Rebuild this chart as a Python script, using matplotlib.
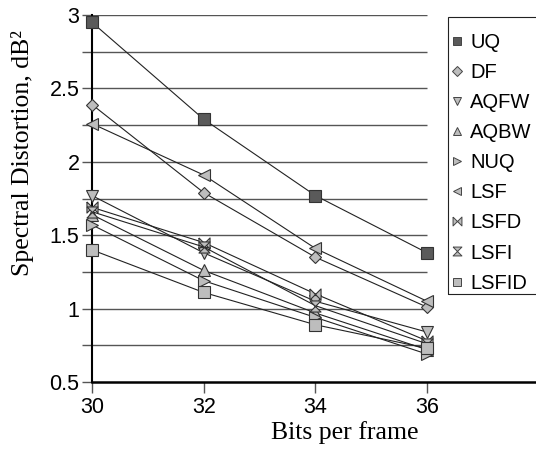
import numpy as np
import matplotlib
matplotlib.use("Agg")
import matplotlib.pyplot as plt
from matplotlib.path import Path
from matplotlib.lines import Line2D
from matplotlib.patches import Rectangle

bits = [30, 32, 34, 36]
methods = ["UQ", "DF", "AQFW", "AQBW", "NUQ", "LSF", "LSFD", "LSFI", "LSFID"]
uq = [2.95, 2.29, 1.77, 1.38]
df = [2.39, 1.79, 1.35, 1.01]
aqfw = [1.77, 1.38, 1.05, 0.84]
aqbw = [1.64, 1.26, 0.97, 0.72]
nuq = [1.57, 1.19, 0.94, 0.69]
lsf = [2.26, 1.91, 1.41, 1.05]
lsfd = [1.69, 1.45, 1.10, 0.78]
lsfi = [1.66, 1.42, 1.02, 0.76]
lsfid = [1.40, 1.11, 0.89, 0.73]
series = [uq, df, aqfw, aqbw, nuq, lsf, lsfd, lsfi, lsfid]

# bowtie / hourglass markers
bowtie = Path([(-1, 1), (-1, -1), (1, 1), (1, -1), (-1, 1)])
hourglass = Path([(-1, 1), (1, 1), (-1, -1), (1, -1), (-1, 1)])
markers = ["s", "D", "v", "^", ">", "<", bowtie, hourglass, "s"]
sizes = [8, 6, 8, 8, 8, 8, 8, 8, 8]
light = "#bdbdbd"
fills = ["#5a5a5a"] + [light] * 8

sans = "Liberation Sans"
serif = "Liberation Serif"

W, H = 536, 450
fig = plt.figure(figsize=(W / 100, H / 100), dpi=100)
ax = fig.add_axes([92 / W, 1 - 382 / H, 1 - 92 / W, (382 - 15) / H])

# horizontal grid, only up to the last point
ax.hlines(np.arange(0.75, 3.01, 0.25), 30, 36, color="#555555", lw=1.0, zorder=0)

for vals, m, s, fc in zip(series, markers, sizes, fills):
    ax.plot(bits, vals, color="#222222", lw=0.8, marker=m, ms=s,
            mfc=fc, mec="#333333", mew=0.8, zorder=3, clip_on=False)

ax.set_xlim(30, 37.95)
ax.set_ylim(0.5, 3.0)
ax.set_xticks(bits)
ax.set_yticks([0.5, 1, 1.5, 2, 2.5, 3])
ax.set_yticklabels(["0.5", "1", "1.5", "2", "2.5", "3"])
ax.set_yticks(np.arange(0.75, 3.0, 0.5), minor=True)
ax.tick_params(axis="x", direction="out", length=8, width=1, color="#555555",
               labelsize=15.5, pad=3)
ax.tick_params(axis="y", which="both", direction="out", length=7, width=1,
               color="#555555", labelsize=15.5, pad=2)
for lab in ax.get_xticklabels() + ax.get_yticklabels():
    lab.set_family(sans)

for side in ["top", "right"]:
    ax.spines[side].set_visible(False)
ax.spines["left"].set_linewidth(1.5)
ax.spines["bottom"].set_linewidth(1.8)

ax.set_xlabel("Bits per frame", family=serif, fontsize=18.5)
ax.set_ylabel("Spectral Distortion, dB²", family=serif, fontsize=18.5)
ax.xaxis.set_label_coords(0.57, -0.105)
ax.yaxis.set_label_coords(-0.13, 0.624)

# legend frame drawn separately, entries placed inside it
fig.patches.append(Rectangle((448 / W, 1 - 294 / H), 1, (294 - 17) / H,
                             transform=fig.transFigure, fill=False,
                             ec="#222222", lw=0.8, clip_on=False))
handles = [Line2D([], [], ls="none", marker=m, ms=s * 0.8, mfc=fc,
                  mec="#444444", mew=0.7)
           for m, s, fc in zip(markers, sizes, fills)]
leg = fig.legend(handles, methods, loc="upper left",
                 bbox_to_anchor=(447 / W, 1 - 33 / H),
                 prop={"family": sans, "size": 14.5}, frameon=False,
                 handlelength=1.0, handletextpad=0.15, labelspacing=0.55,
                 borderpad=0, borderaxespad=0)

fig.savefig("out.png", dpi=100)
